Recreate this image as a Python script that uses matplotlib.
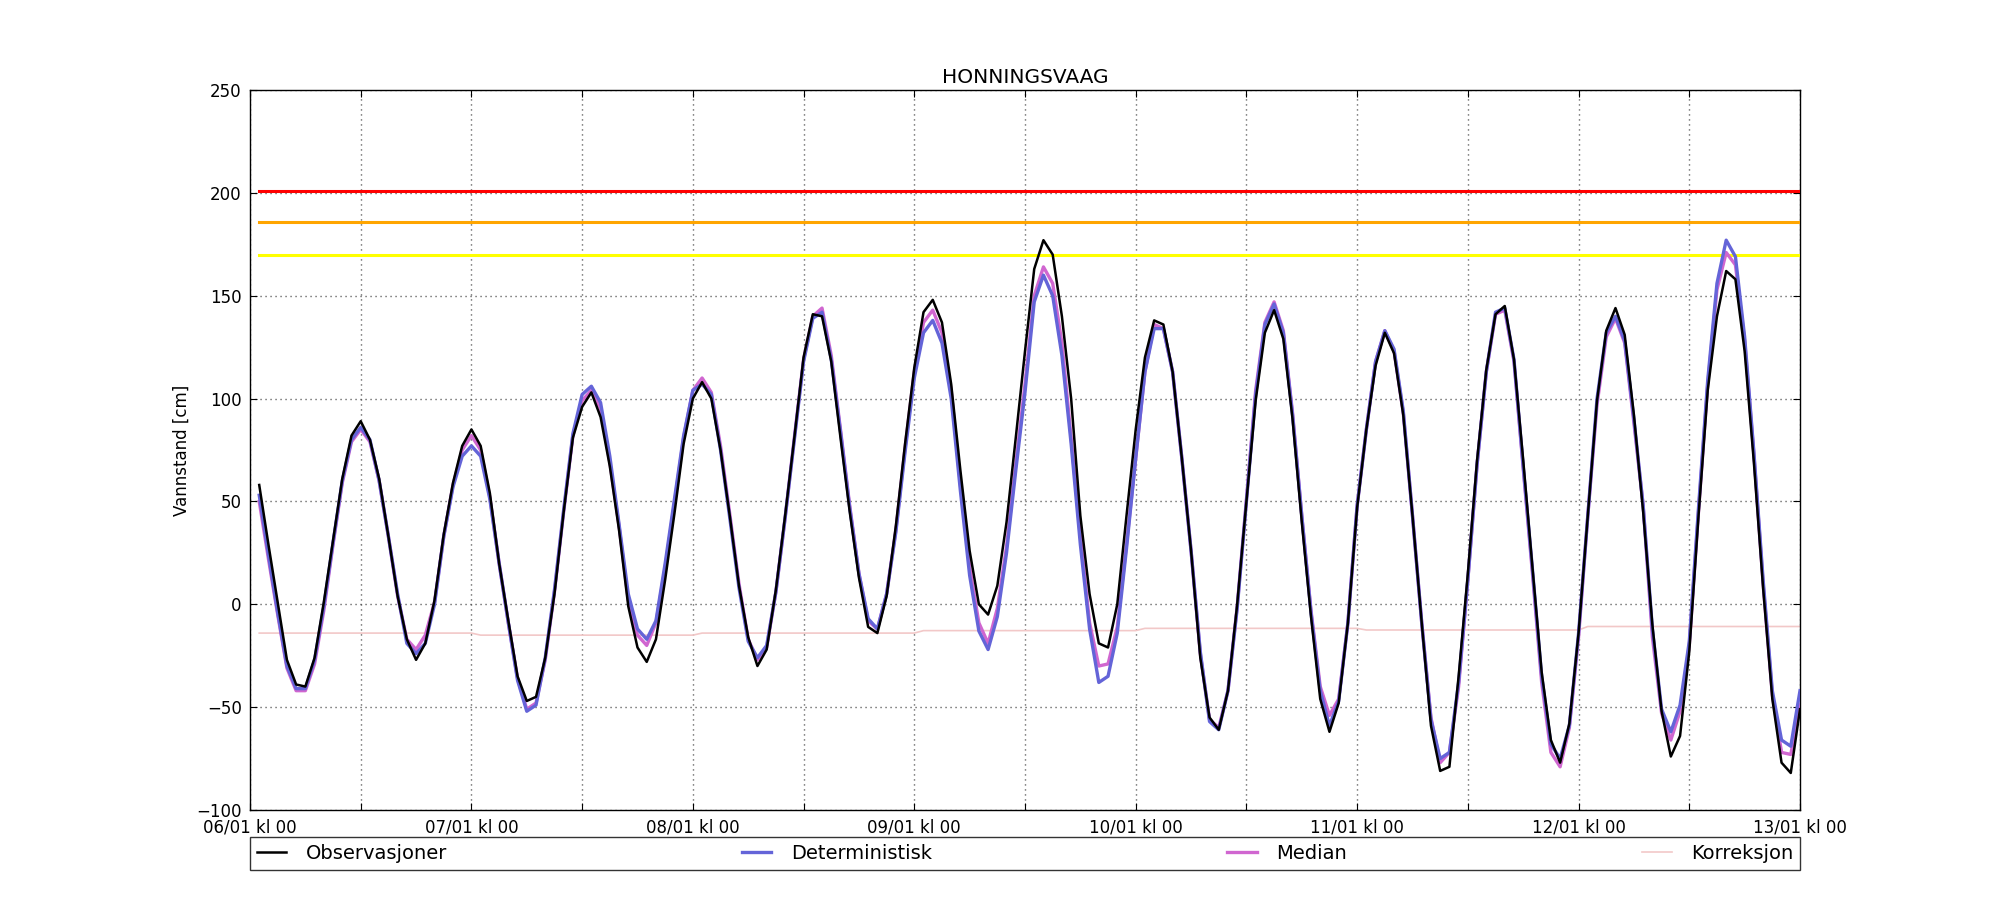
import numpy as np
import matplotlib
matplotlib.use("Agg")
import matplotlib.pyplot as plt

title = "HONNINGSVAAG"
ylabel = "Vannstand [cm]"
series_names = ["Observasjoner", "Deterministisk", "Median", "Korreksjon"]

# hours after 06/01 kl 00 (hourly values 01:00 ... 13/01 00:00)
hours = np.arange(1, 169)

obs = [58, 29, 1, -27, -39, -40, -26, 1, 31, 61, 82, 89, 80, 61, 33, 4, -17, -27, -19, 2,
       34, 59, 77, 85, 77, 54, 20, -8, -35, -47, -45, -26, 5, 45, 81, 96, 103, 91, 67, 36,
       -1, -21, -28, -17, 12, 44, 78, 100, 108, 100, 75, 43, 9, -16, -30, -22, 7, 43, 81, 120,
       141, 140, 118, 81, 45, 13, -11, -14, 4, 38, 78, 115, 142, 148, 137, 107, 65, 26, 0, -5,
       9, 40, 81, 123, 163, 177, 170, 140, 100, 43, 5, -19, -21, 0, 43, 85, 120, 138, 136, 113,
       71, 26, -26, -55, -61, -42, 0, 50, 99, 132, 143, 129, 90, 40, -6, -46, -62, -48, -9, 47,
       85, 116, 132, 122, 92, 43, -9, -59, -81, -79, -35, 15, 70, 114, 141, 145, 119, 70, 18, -33,
       -66, -77, -58, -14, 43, 99, 133, 144, 131, 92, 45, -10, -52, -74, -64, -23, 43, 104, 140, 162,
       158, 123, 69, 8, -46, -77, -82, -51]

det = [53, 24, -4, -30, -41, -41, -27, -1, 30, 60, 80, 86, 80, 60, 33, 5, -19, -24, -19, 0,
       33, 57, 72, 77, 72, 51, 20, -9, -37, -52, -49, -26, 7, 46, 83, 102, 106, 98, 72, 39,
       5, -12, -17, -8, 20, 51, 82, 104, 107, 102, 75, 42, 8, -18, -26, -20, 6, 42, 80, 118,
       139, 142, 119, 84, 47, 15, -7, -12, 5, 35, 74, 110, 132, 138, 127, 100, 55, 14, -13, -22,
       -6, 25, 65, 103, 147, 160, 150, 121, 78, 29, -12, -38, -35, -14, 27, 71, 113, 134, 134, 113,
       71, 26, -23, -57, -61, -42, -2, 50, 102, 136, 146, 132, 92, 43, -4, -42, -59, -47, -9, 48,
       85, 118, 133, 124, 94, 43, -9, -56, -75, -72, -38, 12, 68, 113, 142, 144, 119, 67, 17, -35,
       -68, -75, -59, -14, 43, 100, 132, 140, 128, 90, 48, -12, -51, -62, -49, -18, 47, 109, 156, 177,
       169, 130, 74, 12, -42, -66, -69, -42]

med = [50, 22, -5, -31, -42, -42, -29, -3, 29, 59, 79, 85, 79, 60, 33, 4, -17, -22, -15, 1,
       33, 58, 75, 82, 75, 52, 20, -9, -36, -51, -48, -27, 6, 45, 82, 99, 104, 95, 69, 38,
       2, -15, -20, -9, 18, 49, 81, 104, 110, 103, 77, 44, 10, -17, -27, -21, 6, 42, 81, 119,
       140, 144, 121, 85, 48, 15, -8, -12, 5, 36, 76, 113, 137, 143, 132, 104, 58, 18, -9, -19,
       -2, 28, 68, 107, 150, 164, 156, 127, 81, 33, -9, -30, -29, -11, 29, 71, 113, 136, 134, 113,
       71, 26, -24, -56, -60, -42, -1, 51, 104, 137, 147, 133, 93, 43, -3, -40, -54, -46, -9, 48,
       85, 118, 133, 123, 93, 43, -9, -55, -77, -72, -40, 12, 68, 113, 141, 143, 118, 66, 15, -38,
       -72, -79, -60, -16, 43, 97, 130, 139, 127, 88, 48, -16, -53, -66, -52, -20, 45, 107, 153, 171,
       165, 128, 73, 10, -44, -72, -73, -49]

# daily correction levels (one value per day, 24 hourly values each)
corr_daily = [-14.0, -15.0, -14.0, -12.8, -11.7, -12.5, -10.8]
corr = np.repeat(corr_daily, 24)

# warning levels
level_values = [201, 186, 170]
level_colors = ["#ff0000", "#ffa500", "#ffff00"]

tick_hours = list(range(0, 169, 12))
tick_labels = ["06/01 kl 00", "", "07/01 kl 00", "", "08/01 kl 00", "", "09/01 kl 00", "",
               "10/01 kl 00", "", "11/01 kl 00", "", "12/01 kl 00", "", "13/01 kl 00"]

plt.rcParams['font.family'] = ['DejaVu Sans']
fig = plt.figure(figsize=(20, 9), dpi=100, facecolor="white")
ax = fig.add_axes([0.125, 0.1, 0.775, 0.8])

for val, col in zip(level_values, level_colors):
    ax.plot([hours[0], hours[-1]], [val, val], color=col, lw=2.2, zorder=3)

l_obs, = ax.plot(hours, obs, color="black", lw=1.8, zorder=6, label=series_names[0])
l_det, = ax.plot(hours, det, color="#6464d8", lw=2.4, zorder=5, label=series_names[1])
l_med, = ax.plot(hours, med, color="#d066d0", lw=2.4, zorder=4, label=series_names[2])
l_cor, = ax.plot(hours, corr, color="#f2c8c8", lw=1.2, zorder=2, label=series_names[3])

ax.set_xlim(0, 168)
ax.set_ylim(-100, 250)
ax.set_yticks(np.arange(-100, 251, 50))
ax.set_xticks(tick_hours)
ax.set_xticklabels(tick_labels)
ax.tick_params(direction="in", length=5, width=0.8, labelsize=12, pad=6,
               top=True, right=True)
ax.grid(True, linestyle=(0, (0.8, 2.8)), color="0.25", lw=1.0)
for s in ax.spines.values():
    s.set_linewidth(1.0)

ax.set_title(title, fontsize=14.5, pad=5)
ax.set_ylabel(ylabel, fontsize=12)

leg = ax.legend(handles=[l_obs, l_det, l_med, l_cor], loc="upper left",
                bbox_to_anchor=(0, -0.0375 - 0.05, 1, 0.05), mode="expand", ncol=4,
                borderaxespad=0, fontsize=14, handlelength=1.5, handletextpad=1.0,
                fancybox=False, frameon=True, borderpad=0.35)
leg.get_frame().set_edgecolor("black")
leg.get_frame().set_linewidth(1.0)

fig.savefig("out.png", dpi=100, facecolor="white")
